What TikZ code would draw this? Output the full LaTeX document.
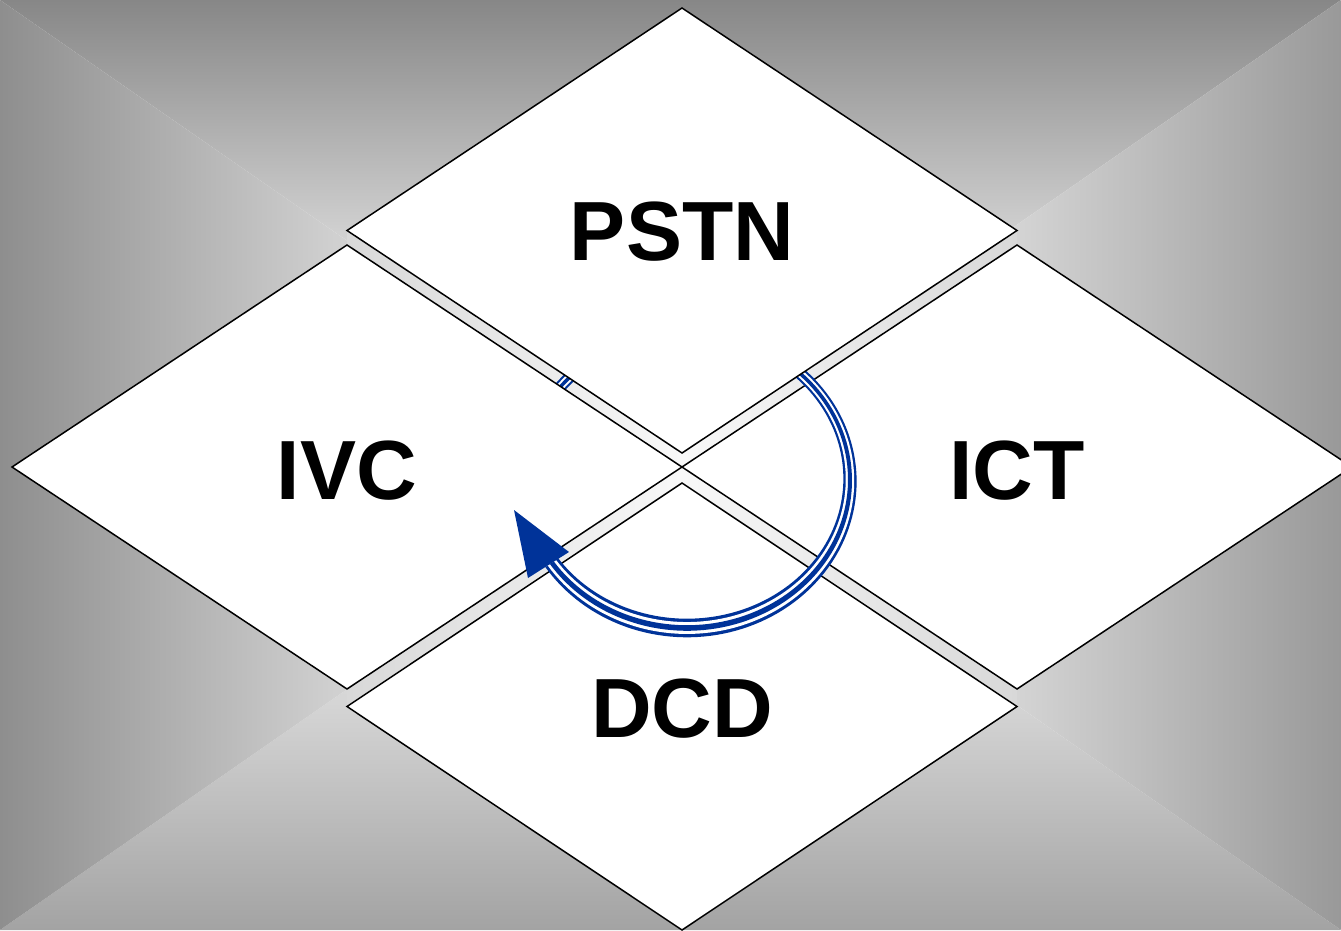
\documentclass[tikz,border=0pt]{standalone}
\usepackage{fontspec}
\setmainfont{Liberation Sans}
\definecolor{arcblue}{HTML}{003399}
\definecolor{bgtop}{HTML}{878787}
\definecolor{bgleft}{HTML}{8E8E8E}
\definecolor{bgright}{HTML}{999999}
\definecolor{bgbottom}{HTML}{A3A3A3}
\definecolor{bgmid}{HTML}{D0D0D0}
\definecolor{bgmidb}{HTML}{D6D6D6}
\definecolor{bgcenter}{HTML}{F0F0F0}
\definecolor{stripend}{HTML}{D8D8D8}
\definecolor{stripmid}{HTML}{F8F8F8}
\newcommand\arcband[2]{%
  \fill[#1] plot[domain=-160:146,samples=140] ({687+(163+#2*hw(\x))*cos(\x)},{480+(148+#2*hw(\x))*sin(\x)})
    -- plot[domain=146:-160,samples=140] ({687+(163-#2*hw(\x))*cos(\x)},{480+(148-#2*hw(\x))*sin(\x)}) -- cycle;}
\begin{document}
\begin{tikzpicture}[x=1pt,y=-1pt,
  declare function={hw(\t)=5.8+3.5*exp(-((\t-90)/75)*((\t-90)/75));},
  tile/.style={fill=white,draw=black,line width=1.5pt,line join=miter},
  lbl/.style={inner sep=0pt,font=\bfseries\fontsize{84}{88}\selectfont,text=black}]
\useasboundingbox (0,0) rectangle (1341,930);
\clip (0,0) rectangle (1341,930);
% background: rectangular gradient
\shade[top color=bgtop,bottom color=bgcenter,middle color=bgmid] (0,0) -- (1341,0) -- (670.5,465) -- cycle;
\shade[top color=bgcenter,bottom color=bgbottom,middle color=bgmidb] (0,930) -- (1341,930) -- (670.5,465) -- cycle;
\shade[left color=bgleft,right color=bgcenter,middle color=bgmid] (0,0) -- (0,930) -- (670.5,465) -- cycle;
\shade[left color=bgcenter,right color=bgright,middle color=bgmidb] (1341,0) -- (1341,930) -- (670.5,465) -- cycle;
% light strips between tiles
\shade[left color=stripend,right color=stripend,middle color=stripmid]
  (347,230.5) -- (682,453) -- (1017,230.5) -- (1017,245) -- (682,467) -- (347,245) -- cycle;
\shade[left color=stripend,right color=stripend,middle color=stripmid]
  (347,689) -- (682,467) -- (1017,689) -- (1017,706.5) -- (682,483) -- (347,706.5) -- cycle;
% tiles below the arc
\draw[tile] (1017,245) -- (1352,467) -- (1017,689) -- (682,467) -- cycle;
\draw[tile] (682,483) -- (1017,706.5) -- (682,930) -- (347,706.5) -- cycle;
% triple-line arc
\arcband{arcblue}{1}
\arcband{white}{0.64}
\arcband{arcblue}{0.3}
% tiles above the arc
\draw[tile] (682,8) -- (1017,230.5) -- (682,453) -- (347,230.5) -- cycle;
\draw[tile] (347,245) -- (682,467) -- (347,689) -- (12,467) -- cycle;
% arrow head
\coordinate (tip) at (514,510);
\coordinate (barb1) at (569,552);
\coordinate (barb2) at (528,578);
\fill[arcblue] (tip) -- (barb1) -- (barb2) -- cycle;
% labels
\node[lbl] (pstn) at (682,232) {PSTN};
\node[lbl] (ivc) at (347,471) {IVC};
\node[lbl] (ict) at (1017,471) {ICT};
\node[lbl] (dcd) at (682,709) {DCD};
\end{tikzpicture}
\end{document}
